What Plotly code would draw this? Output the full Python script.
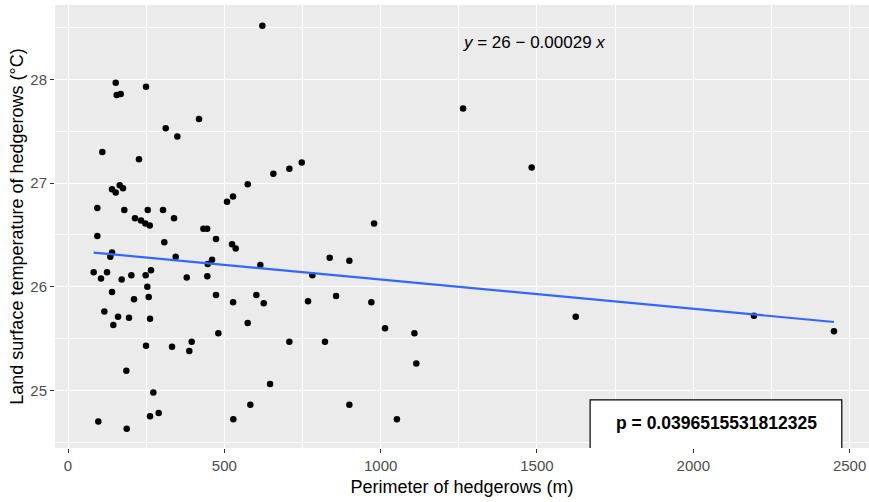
import numpy as np
import plotly.graph_objects as go

# Perimeter of hedgerows (m)
perimeter = [621.6, 152.6, 155.7, 168.5, 249.5, 312.5, 349.7, 419.0, 109.8, 227.0,
             140.8, 152.6, 165.4, 175.9, 93.8, 180.1, 214.3, 233.5, 247.5, 261.4,
             255.0, 303.9, 339.1, 308.0, 93.8, 473.4, 508.6, 527.8, 574.8, 656.8,
             708.0, 747.6, 524.6, 536.4, 433.0, 445.0, 1263.6, 1483.0, 978.9, 82.1,
             105.6, 124.8, 140.8, 135.4, 140.8, 116.2, 160.0, 145.0, 171.6, 202.6,
             211.1, 195.1, 248.4, 265.5, 253.7, 258.1, 262.3, 249.5, 186.6, 272.9,
             262.3, 290.0, 96.9, 187.8, 344.5, 379.7, 445.6, 446.9, 460.7, 473.4,
             528.0, 480.8, 332.7, 388.0, 395.6, 615.2, 602.4, 626.0, 574.8, 708.0,
             646.2, 583.2, 528.8, 837.0, 899.9, 781.6, 767.7, 857.3, 970.3, 1014.0,
             1108.0, 1114.0, 822.0, 899.9, 1052.0, 1624.0, 2194.0, 2450.0]
# Land surface temperature (°C)
lst = [28.52, 27.97, 27.85, 27.86, 27.93, 27.53, 27.45, 27.62, 27.30, 27.23,
       26.94, 26.91, 26.98, 26.95, 26.76, 26.74, 26.66, 26.64, 26.61, 26.59,
       26.74, 26.74, 26.66, 26.43, 26.49, 26.46, 26.82, 26.87, 26.99, 27.09,
       27.14, 27.20, 26.41, 26.37, 26.56, 26.56, 27.72, 27.15, 26.61, 26.14,
       26.08, 26.14, 26.33, 26.29, 25.95, 25.76, 25.71, 25.63, 26.07, 26.11,
       25.88, 25.70, 26.11, 26.16, 26.00, 25.90, 25.69, 25.43, 25.19, 24.98,
       24.75, 24.78, 24.70, 24.63, 26.29, 26.09, 26.10, 26.22, 26.26, 25.92,
       25.85, 25.55, 25.42, 25.38, 25.47, 26.21, 25.92, 25.84, 25.65, 25.47,
       25.06, 24.86, 24.72, 26.28, 26.25, 26.11, 25.86, 25.91, 25.85, 25.60,
       25.55, 25.26, 25.47, 24.86, 24.72, 25.71, 25.72, 25.57]

FIT_INTERCEPT = 26.353
FIT_SLOPE = -0.000283
equation_text = "<i>y</i> = 26 − 0.00029 <i>x</i>"
p_text = "<b>p = 0.0396515531812325</b>"

x_ticks = [0, 500, 1000, 1500, 2000, 2500]
y_ticks = [25, 26, 27, 28]

FONT = "Arial, Liberation Sans, sans-serif"

xs = np.array(perimeter)
line_x = np.linspace(xs.min(), xs.max(), 80)
line_y = FIT_INTERCEPT + FIT_SLOPE * line_x

fig = go.Figure()
fig.add_trace(go.Scatter(x=perimeter, y=lst, mode="markers",
                         marker=dict(color="black", size=6.5),
                         showlegend=False, hoverinfo="x+y"))
fig.add_trace(go.Scatter(x=line_x, y=line_y, mode="lines",
                         line=dict(color="#3366FF", width=2.2),
                         showlegend=False))

# p-value box (clipped at panel bottom)
fig.add_shape(type="rect", xref="x", yref="y",
              x0=1670, x1=2475, y0=24.0, y1=24.908,
              fillcolor="white", line=dict(color="black", width=1.2),
              layer="above")

fig.add_annotation(x=1491, y=28.359, xref="x", yref="y", text=equation_text,
                   showarrow=False, font=dict(family=FONT, size=17, color="black"))
fig.add_annotation(x=2073, y=24.689, xref="x", yref="y", text=p_text,
                   showarrow=False, font=dict(family=FONT, size=17.5, color="black"))

fig.update_layout(
    width=869, height=502,
    margin=dict(l=55, r=0, t=5, b=54),
    paper_bgcolor="white", plot_bgcolor="#EBEBEB",
    font=dict(family=FONT),
    showlegend=False,
)
fig.update_xaxes(
    range=[-41.6, 2562], tickvals=x_ticks, ticktext=[str(v) for v in x_ticks],
    showgrid=True, gridcolor="white", gridwidth=1.4, zeroline=False,
    ticks="outside", ticklen=4, tickcolor="#333333", tickwidth=1.1,
    tickfont=dict(family=FONT, size=15, color="#4D4D4D"),
    minor=dict(dtick=250, tick0=0, showgrid=True, gridcolor="white", gridwidth=0.7, ticks=""),
    title=dict(text="Perimeter of hedgerows (m)", font=dict(family=FONT, size=18, color="black"),
               standoff=7),
    showline=False, automargin=False,
)
fig.update_yaxes(
    range=[24.443, 28.72], tickvals=y_ticks, ticktext=[str(v) for v in y_ticks],
    showgrid=True, gridcolor="white", gridwidth=1.4, zeroline=False,
    ticks="outside", ticklen=4, tickcolor="#333333", tickwidth=1.1,
    tickfont=dict(family=FONT, size=15, color="#4D4D4D"),
    minor=dict(dtick=0.5, tick0=0, showgrid=True, gridcolor="white", gridwidth=0.7, ticks=""),
    title=dict(text="Land surface temperature of hedgerows (°C)",
               font=dict(family=FONT, size=18, color="black"), standoff=2),
    showline=False, automargin=False,
)

fig.write_html("out.html")
